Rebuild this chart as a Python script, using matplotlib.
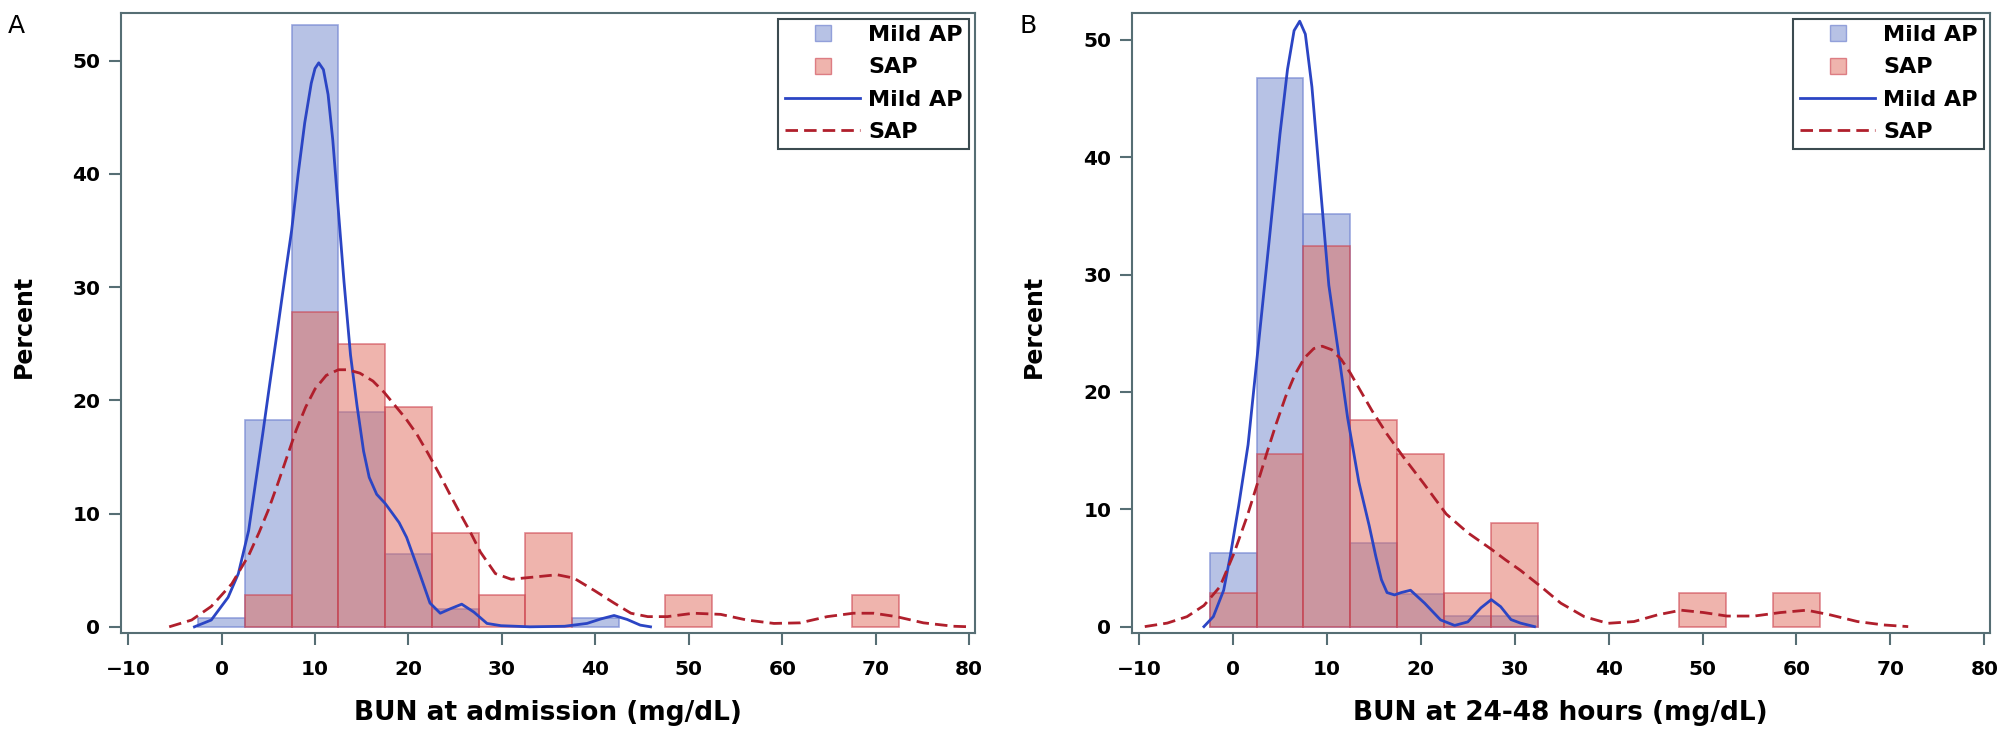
import matplotlib
matplotlib.use("Agg")
import matplotlib.pyplot as plt
from matplotlib.lines import Line2D

# histogram bars: bin centres (bin width 5) and percent of patients
a_mild_bins = [0, 5, 10, 15, 20, 25, 40]
a_mild_pct = [0.8, 18.3, 53.1, 19.0, 6.4, 1.6, 0.8]
a_sap_bins = [5, 10, 15, 20, 25, 30, 35, 50, 70]
a_sap_pct = [2.8, 27.8, 25.0, 19.4, 8.3, 2.8, 8.3, 2.8, 2.8]

b_mild_bins = [0, 5, 10, 15, 20, 25, 30]
b_mild_pct = [6.3, 46.8, 35.2, 7.1, 2.8, 0.9, 0.9]
b_sap_bins = [0, 5, 10, 15, 20, 25, 30, 50, 60]
b_sap_pct = [2.9, 14.7, 32.4, 17.6, 14.7, 2.9, 8.8, 2.9, 2.9]

# kernel density curves
a_mild_x = [-2.9, -1.1, 0.7, 1.8, 2.9, 3.6, 4.4, 5.2, 6.0, 6.8, 7.5, 8.2, 8.9, 9.6, 10.0, 10.4,
            10.9, 11.4, 11.9, 12.4, 13.1, 13.8, 14.5, 15.2, 15.8, 16.6, 17.5, 18.3, 19.0,
            19.8, 20.5, 21.2, 22.3, 23.4, 24.5, 25.7, 27.0, 28.4, 29.9, 33.0, 36.7, 39.1,
            40.6, 42.0, 43.4, 44.8, 45.9]
a_mild_y = [0.0, 0.6, 2.6, 4.7, 8.5, 12.5, 17.0, 21.7, 26.3, 31.0, 35.0, 40.0, 44.5, 48.0, 49.3, 49.8,
            49.2, 47.0, 43.0, 37.8, 30.5, 24.0, 19.5, 15.5, 13.2, 11.7, 10.9, 10.0, 9.2,
            7.9, 6.3, 4.7, 2.1, 1.2, 1.6, 2.0, 1.3, 0.3, 0.1, 0.0, 0.05, 0.3,
            0.7, 1.0, 0.65, 0.15, 0.0]
a_sap_x = [-5.6, -3.2, -1.1, 1.1, 2.9, 4.0, 5.0, 6.0, 7.0, 8.0, 9.0, 10.0, 11.2, 12.5, 13.5,
           14.8, 16.2, 17.4, 18.5, 19.7, 20.9, 22.1, 23.3, 24.5, 25.6, 26.6, 27.7, 29.3,
           31.0, 33.5, 35.9, 37.7, 39.9, 42.0, 43.8, 45.6, 47.7, 50.5, 53.4, 56.2, 59.1,
           61.9, 64.8, 67.6, 69.8, 72.2, 75.1, 78.3, 80.2]
a_sap_y = [0.0, 0.6, 1.8, 3.8, 6.3, 8.3, 10.3, 12.6, 15.0, 17.4, 19.4, 21.0, 22.2, 22.7, 22.7,
           22.4, 21.7, 20.7, 19.6, 18.4, 17.0, 15.3, 13.5, 11.6, 9.9, 8.4, 6.6, 4.7,
           4.2, 4.4, 4.6, 4.3, 3.2, 2.1, 1.2, 0.9, 0.9, 1.2, 1.1, 0.6, 0.3,
           0.35, 0.9, 1.2, 1.2, 0.9, 0.35, 0.05, 0.0]

b_mild_x = [-3.1, -2.1, -1.0, -0.3, 0.6, 1.6, 2.7, 3.9, 5.0, 5.8, 6.5, 7.1, 7.7, 8.4, 9.3,
            10.2, 11.2, 12.2, 13.4, 14.5, 15.2, 15.8, 16.4, 17.2, 17.9, 18.9, 20.4, 22.1,
            23.6, 25.0, 26.4, 27.5, 28.5, 29.6, 30.6, 32.1]
b_mild_y = [0.0, 0.85, 3.1, 6.0, 10.3, 15.5, 24.0, 33.3, 42.0, 47.5, 50.8, 51.6, 50.5, 46.0, 37.5,
            29.1, 23.5, 17.8, 12.3, 8.6, 6.0, 4.0, 2.9, 2.7, 2.9, 3.1, 2.0, 0.57,
            0.1, 0.4, 1.6, 2.3, 1.7, 0.6, 0.3, 0.0]
b_sap_x = [-9.4, -7.0, -4.9, -3.1, -1.4, 0.1, 1.5, 2.6, 3.6, 4.6, 5.6, 6.6, 7.6, 8.6, 9.5,
           10.5, 11.5, 12.5, 13.5, 14.8, 16.4, 18.1, 20.3, 22.7, 25.0, 27.5, 29.0, 30.6,
           32.8, 34.9, 37.4, 39.9, 42.7, 45.2, 47.7, 50.1, 52.6, 55.5, 58.3, 61.1, 63.6,
           66.5, 69.3, 71.9]
b_sap_y = [0.0, 0.3, 0.85, 1.8, 3.4, 6.25, 9.4, 12.2, 14.8, 17.3, 19.6, 21.5, 22.9, 23.7, 23.9,
           23.6, 22.8, 21.6, 20.2, 18.4, 16.4, 14.5, 12.2, 9.6, 8.0, 6.6, 5.7, 4.8,
           3.4, 2.0, 0.85, 0.28, 0.43, 1.0, 1.4, 1.2, 0.9, 0.9, 1.2, 1.4, 1.0,
           0.43, 0.14, 0.0]

MILD_FILL = (0.44, 0.53, 0.80, 0.50)
MILD_EDGE = (0.45, 0.52, 0.82, 0.70)
SAP_FILL = (0.88, 0.42, 0.36, 0.50)
SAP_EDGE = (0.80, 0.25, 0.30, 0.60)
MILD_LINE = "#2b45c4"
SAP_LINE = "#b01f2c"
AXIS_COL = "#566e74"

plt.rcParams["font.family"] = ["DejaVu Sans"]

fig = plt.figure(figsize=(20.1, 7.47), dpi=100)
ax_a = fig.add_axes([0.0600, 0.1530, 0.4250, 0.8296])
ax_b = fig.add_axes([0.5630, 0.1530, 0.4270, 0.8296])


def draw_panel(ax, mild_bins, mild_pct, sap_bins, sap_pct, mx, my, sx, sy, xlabel, ytop):
    ax.bar(mild_bins, mild_pct, width=5, color=MILD_FILL, edgecolor=MILD_EDGE, linewidth=1.2)
    ax.bar(sap_bins, sap_pct, width=5, color=SAP_FILL, edgecolor=SAP_EDGE, linewidth=1.2)
    ax.plot(mx, my, color=MILD_LINE, lw=2.0)
    ax.plot(sx, sy, color=SAP_LINE, lw=2.0, dashes=(4.5, 2.2))

    ax.set_xlim(-10.8, 80.6)
    ax.set_ylim(-0.52, ytop)
    ax.set_xticks(range(-10, 81, 10))
    ax.set_yticks(range(0, 51, 10))
    for s in ax.spines.values():
        s.set_color(AXIS_COL)
        s.set_linewidth(1.5)
    ax.tick_params(axis="both", direction="out", length=8.6, width=1.5, color=AXIS_COL,
                   labelsize=14.5, labelcolor="black")
    ax.tick_params(axis="x", pad=11)
    ax.tick_params(axis="y", pad=6)
    for lab in ax.get_xticklabels() + ax.get_yticklabels():
        lab.set_fontweight("bold")

    ax.set_xlabel(xlabel, fontsize=19, fontweight="bold")
    ax.xaxis.set_label_coords(0.5, -0.108)
    ax.set_ylabel("Percent", fontsize=17, fontweight="bold")
    ax.yaxis.set_label_coords(-0.0995, 0.495)

    handles = [
        Line2D([0], [0], marker="s", ls="none", ms=11, mfc=MILD_FILL, mec=MILD_EDGE, label="Mild AP"),
        Line2D([0], [0], marker="s", ls="none", ms=11, mfc=SAP_FILL, mec=SAP_EDGE, label="SAP"),
        Line2D([0], [0], color=MILD_LINE, lw=2.0, label="Mild AP"),
        Line2D([0], [0], color=SAP_LINE, lw=2.0, dashes=(4.5, 2.2), label="SAP"),
    ]
    leg = ax.legend(handles=handles, loc="upper right", fancybox=False, framealpha=1,
                    edgecolor="#3b4b50", prop={"size": 16, "weight": "bold"},
                    borderpad=0.3, labelspacing=0.55, handlelength=3.4, handletextpad=0.35,
                    borderaxespad=0.25)
    leg.get_frame().set_linewidth(1.5)


draw_panel(ax_a, a_mild_bins, a_mild_pct, a_sap_bins, a_sap_pct,
           a_mild_x, a_mild_y, a_sap_x, a_sap_y, "BUN at admission (mg/dL)", 54.2)
draw_panel(ax_b, b_mild_bins, b_mild_pct, b_sap_bins, b_sap_pct,
           b_mild_x, b_mild_y, b_sap_x, b_sap_y, "BUN at 24-48 hours (mg/dL)", 52.3)

fig.text(16 / 2010, 1 - 26 / 747, "A", fontsize=18, ha="center", va="center")
fig.text(1028 / 2010, 1 - 26 / 747, "B", fontsize=18, ha="center", va="center")

fig.savefig("out.png", dpi=100)
